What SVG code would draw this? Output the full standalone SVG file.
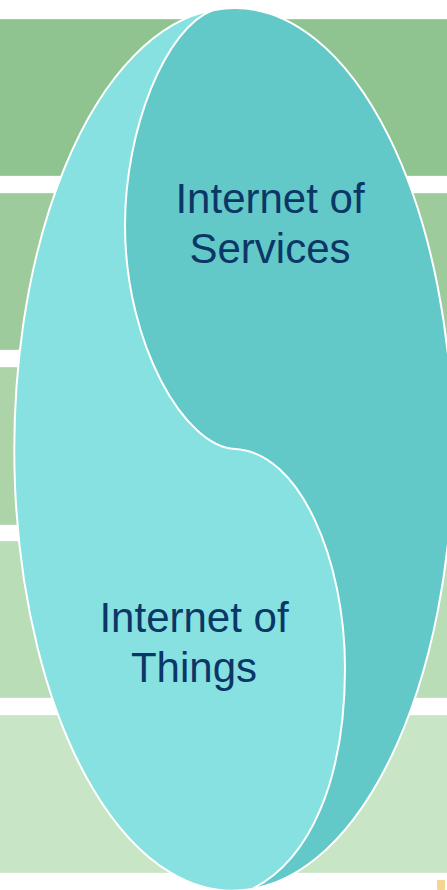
<svg xmlns="http://www.w3.org/2000/svg" width="447" height="890" viewBox="0 0 447 890">
<style>
.band{stroke:#ffffff;stroke-opacity:0.35;stroke-width:1}
.lbl{font-family:"Liberation Sans",Arial,sans-serif;font-size:42px;fill:#0b3766;text-anchor:middle}
.edge{stroke:#ffffff;stroke-width:2;stroke-linejoin:round}
</style>
<rect width="447" height="890" fill="#ffffff"/>
<g id="bands">
<rect class="band" x="-1" y="19" width="449" height="157" fill="#8fc390"/>
<rect class="band" x="-1" y="193" width="449" height="157" fill="#9ecb9b"/>
<rect class="band" x="-1" y="367" width="449" height="158" fill="#acd4a8"/>
<rect class="band" x="-1" y="541" width="449" height="157" fill="#b9ddb6"/>
<rect class="band" x="-1" y="715" width="449" height="158" fill="#c8e6c6"/>
</g>
<g id="services">
<ellipse class="edge" cx="235" cy="449" rx="218" ry="441" fill="#63c8c8"/>
<text class="lbl" x="270" y="213">Internet of</text>
<text class="lbl" x="270" y="263">Services</text>
</g>
<g id="things">
<path class="edge" fill="#86e1e0" d="M213,10 A218,441 0 1,0 252,889 C310,860 345,780 345,668 C345,560 300,452 235,449 C185,447 125,345 125,225 C125,130 165,28 213,10 Z"/>
<text class="lbl" x="194" y="632">Internet of</text>
<text class="lbl" x="194" y="682">Things</text>
</g>
<rect x="437" y="880" width="8" height="10" rx="1" fill="#f5d592"/>
</svg>
